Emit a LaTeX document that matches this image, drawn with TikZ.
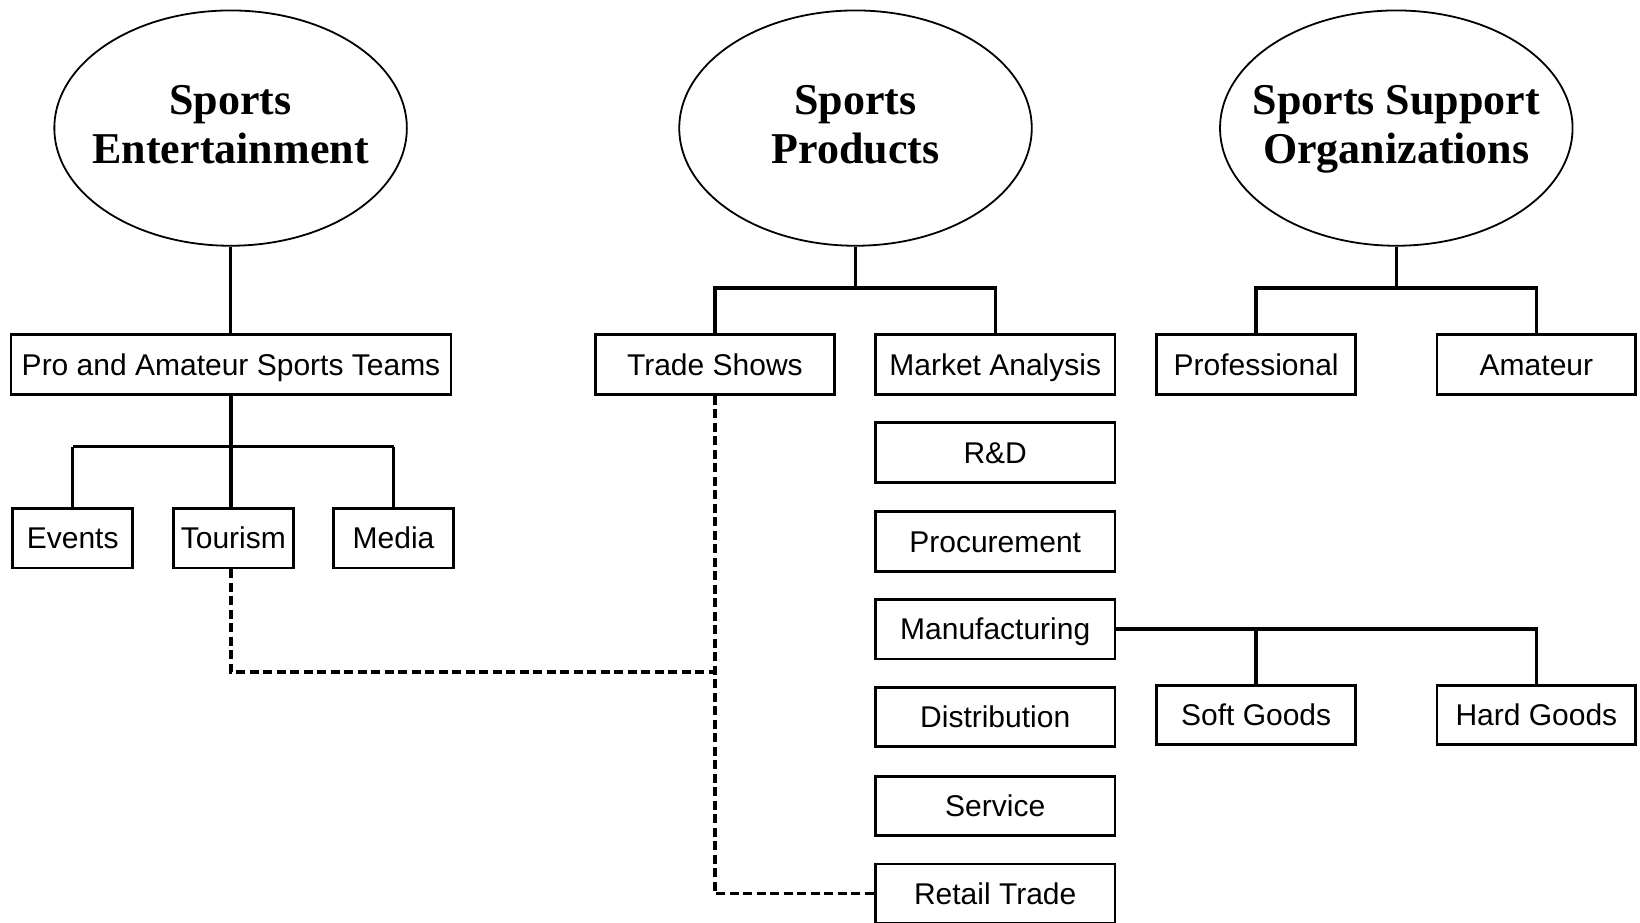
\documentclass[tikz,border=0pt]{standalone}
\usepackage{fontspec}
\setmainfont{Liberation Serif}
\newfontfamily\boxfont{Liberation Sans}
\usetikzlibrary{shapes.geometric}
\tikzset{
  ell/.style={ellipse, draw, line width=1.8pt, minimum width=352.5pt, minimum height=235.3pt, inner sep=0pt},
  etitle/.style={align=center, inner sep=0pt, font=\fontsize{44}{48}\selectfont\bfseries},
  boxn/.style={draw, line width=2.8pt, minimum height=59.6pt, inner sep=0pt, text height=21.5pt, text depth=0pt,
    font=\boxfont\fontsize{30}{34}\selectfont},
  wbox/.style={boxn, minimum width=440pt},
  mbox/.style={boxn, minimum width=239.5pt},
  sbox/.style={boxn, minimum width=198.7pt},
  tbox/.style={boxn, minimum width=119.8pt},
  conn/.style={line width=3.3pt},
  busline/.style={line width=3.8pt},
  dashline/.style={line width=3.3pt, dash pattern=on 9pt off 4.5pt},
}
\begin{document}
\begin{tikzpicture}[x=1pt,y=-1pt]
\useasboundingbox (0,0) rectangle (1640,923);
\fill[white] (0,0) rectangle (1640,923);

% ellipses
\node[ell] (E1) at (230.6,128.1) {};
\node[ell] (E2) at (855.5,128.1) {};
\node[ell] (E3) at (1396.3,128.1) {};
\node[etitle, yshift=-1.3pt] (E1t) at (E1.center) {\strut Sports\\\strut Entertainment};
\node[etitle, yshift=-1.3pt] (E2t) at (E2.center) {\strut Sports\\\strut Products};
\node[etitle, yshift=-1.3pt] (E3t) at (E3.center) {\strut Sports Support\\\strut Organizations};

% first row
\node[wbox] (pro) at (231,364.5) {Pro and Amateur Sports Teams};
\node[mbox] (ts) at (714.9,364.5) {Trade Shows};
\node[mbox] (ma) at (995.2,364.5) {Market Analysis};
\node[sbox] (prof) at (1256.1,364.5) {Professional};
\node[sbox] (am) at (1536.4,364.5) {Amateur};

% second row left
\node[tbox] (ev) at (72.7,538.1) {Events};
\node[tbox] (tour) at (233.3,538.1) {Tourism};
\node[tbox] (med) at (393.5,538.1) {Media};

% column
\node[mbox] (rd) at (995.2,452.4) {R\&D};
\node[mbox] (pc) at (995.2,541.3) {Procurement};
\node[mbox] (mf) at (995.2,629.1) {Manufacturing};
\node[mbox] (ds) at (995.2,717.0) {Distribution};
\node[mbox] (sv) at (995.2,805.9) {Service};
\node[mbox] (rt) at (995.2,893.7) {Retail Trade};

\node[sbox] (sg) at (1256.1,714.9) {Soft Goods};
\node[sbox] (hg) at (1536.4,714.9) {Hard Goods};

% bus coordinates
\coordinate (b1) at (231,446.5);
\coordinate (b2) at (855.5,288);
\coordinate (b3) at (1396.3,288);
\coordinate (jn) at (714.9,672);

% solid connectors
\draw[conn] (E1.south) -- (E1.south |- pro.north);
\draw[conn] (pro.south) -- (pro.south |- tour.north);
\draw[conn] (ev.north) -- (ev.north |- b1);
\draw[conn] (med.north) -- (med.north |- b1);
\draw[busline] (ev.north |- b1) -- (med.north |- b1);

\draw[conn] (E2.south) -- (b2);
\draw[conn] (ts.north) |- (b2) -| (ma.north);

\draw[conn] (E3.south) -- (b3);
\draw[conn] (prof.north) |- (b3) -| (am.north);

\draw[conn] (mf.east) -| (hg.north);
\draw[conn] (sg.north) -- (sg.north |- mf.east);

% dashed connectors
\draw[dashline] (pro.south |- tour.south) |- (jn);
\draw[dashline] (ts.south) |- (rt.west);
\end{tikzpicture}
\end{document}
